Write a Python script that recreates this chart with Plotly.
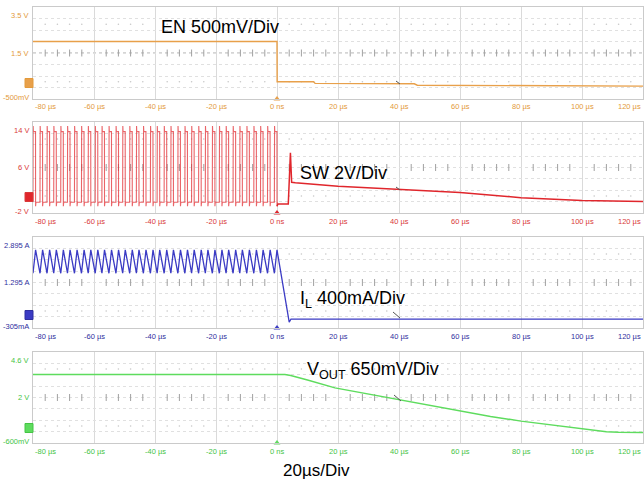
import plotly.graph_objects as go

W, H = 644, 486
FONT = "Liberation Sans, Arial, sans-serif"

# ---- time axis (µs) ----
t_ticks = [-80, -60, -40, -20, 0, 20, 40, 60, 80, 100, 120]
t_tick_text = ["-80 µs", "-60 µs", "-40 µs", "-20 µs", "0 ns", "20 µs",
               "40 µs", "60 µs", "80 µs", "100 µs", "120 µs"]

# ---- EN (V) ----
en_t = [-80, 0.0, 0.05, 12.0, 12.5, 45.0, 46.0, 120]
en_v = [2.0, 2.0, 0.25, 0.25, 0.18, 0.16, 0.10, 0.06]

# ---- SW node: rising edges of the switching pulses (µs) ----
sw_rise_us = [-80.0, -77.7, -75.4, -73.2, -70.9, -68.7, -66.4, -64.1, -61.9,
              -59.6, -57.4, -55.1, -52.8, -50.6, -48.3, -46.1, -43.8, -41.5,
              -39.3, -37.0, -34.8, -32.5, -30.2, -28.0, -25.7, -23.5, -21.2,
              -18.9, -16.7, -14.4, -12.2, -9.9, -7.6, -5.4, -3.1, -0.85]
sw_on_us = 0.85
sw_high_v = 12.3
sw_overshoot_v = 13.3
sw_low_v = -0.1
sw_undershoot_v = -0.8
# SW after the converter stops switching
sw_tail_t = [0.0, 0.3, 3.7, 4.4, 4.8, 6.0, 20, 40, 60, 80, 100, 120]
sw_tail_v = [-0.8, -0.4, -0.4, 8.6, 3.4, 3.3, 2.7, 2.1, 1.6, 0.7, 0.2, 0.0]

# ---- inductor current (A) ----
il_valley_a = 1.62
il_peak_a = 2.44
il_tail_t = [4.0, 4.6, 120]
il_tail_v = [-0.10, 0.01, 0.01]

# ---- VOUT (V) ----
vout_t = [-80, 2.6, 4.5, 7, 10, 19, 30, 39, 53, 60, 70, 80, 90, 100, 105,
          108, 112, 120]
vout_v = [3.31, 3.31, 3.26, 3.15, 3.0, 2.55, 2.2, 1.89, 1.45, 1.22, 0.92,
          0.65, 0.42, 0.23, 0.11, 0.04, 0.01, 0.0]

# ---- build the switching waveforms from the edge list ----
sw_t, sw_v, il_t, il_v = [], [], [], []
for tr in sw_rise_us:
    tf = tr + sw_on_us
    sw_t += [tr - 0.01, tr, tr + 0.05, tr + 0.12, tf - 0.02, tf, tf + 0.12]
    sw_v += [sw_low_v, sw_high_v, sw_overshoot_v, sw_high_v, sw_high_v,
             sw_undershoot_v, sw_low_v]
    il_t += [tr, tf]
    il_v += [il_valley_a, il_peak_a]
il_t += il_tail_t
il_v += il_tail_v

# ---- panels: (name, traces, range, div, line colour, label colour, top px, bottom px) ----
panels = [
    ("EN", [(en_t, en_v, "#E8A04A", 1.4)], (-0.5, 3.5), 0.5,
     "#E8A04A", "#E39A3B", 7, 99),
    ("SW", [(sw_t, sw_v, "rgba(226,40,46,0.72)", 1.1),
            (sw_tail_t, sw_tail_v, "#E0262C", 1.5)], (-2.0, 14.0), 2.0,
     "#E0262C", "#D93A3A", 122, 213),
    ("IL", [(il_t, il_v, "#3B3BC4", 1.3)], (-0.305, 2.895), 0.4,
     "#3B3BC4", "#2F2F9E", 237, 328),
    ("VOUT", [(vout_t, vout_v, "#5EDC5E", 1.5)], (-0.6, 4.6), 0.65,
     "#5EDC5E", "#45C445", 352, 443),
]
y_labels = [
    ["3.5 V", "1.5 V", "-500mV"],
    ["14 V", "6 V", "-2 V"],
    ["2.895 A", "1.295 A", "-305mA"],
    ["4.6 V", "2 V", "-600mV"],
]
ground_px = [83, 197, 315, 428]


def px(x):
    return x / W


def py(y):
    return 1 - y / H


fig = go.Figure()
layout = dict(
    width=W, height=H,
    margin=dict(l=0, r=0, t=0, b=0),
    paper_bgcolor="white", plot_bgcolor="white",
    showlegend=False,
    font=dict(family=FONT),
)
shapes, annotations = [], []
x_left, x_right = 33, 643

for i, (name, traces, (lo, hi), div, col, lcol, top, bot) in enumerate(panels):
    n = "" if i == 0 else str(i + 1)
    xa, ya = "x" + n, "y" + n
    layout["xaxis" + n] = dict(
        domain=[px(x_left), px(x_right)], range=[-80, 120], anchor=ya,
        tickvals=t_ticks, showticklabels=False, ticks="",
        showgrid=True, gridcolor="#DADADA", gridwidth=1, zeroline=False,
        showline=True, linecolor="#CACACA", mirror=True,
    )
    layout["yaxis" + n] = dict(
        domain=[py(bot), py(top)], range=[lo, hi], anchor=xa,
        tick0=lo, dtick=div, showticklabels=False, ticks="",
        showgrid=True, gridcolor="#E0E0E0", griddash="dot", gridwidth=1,
        zeroline=False, showline=True, linecolor="#CACACA", mirror=True,
    )
    center = (lo + hi) / 2

    # centre graticule line with minor tick marks
    shapes.append(dict(type="line", xref=xa + " domain", yref=ya,
                       x0=0, x1=1, y0=center, y1=center, layer="below",
                       line=dict(color="#ABABAB", width=1, dash="dot")))
    minor = [m for m in range(-80, 121, 4) if m % 20 != 0]
    fig.add_trace(go.Scatter(
        x=minor, y=[center] * len(minor), xaxis=xa, yaxis=ya, mode="markers",
        marker=dict(symbol="line-ns", size=5,
                    line=dict(color="#A0A0A0", width=1)),
        hoverinfo="skip"))
    for row in (lo + 1.5 * div, hi - 1.5 * div):
        fig.add_trace(go.Scatter(
            x=minor, y=[row] * len(minor), xaxis=xa, yaxis=ya, mode="markers",
            marker=dict(symbol="circle", size=1.6, color="#C8C8C8"),
            hoverinfo="skip"))

    # signal traces
    for (t, v, c, w) in traces:
        fig.add_trace(go.Scatter(
            x=t, y=v, xaxis=xa, yaxis=ya, mode="lines",
            line=dict(color=c, width=w), hoverinfo="skip"))

    # trigger marker at t = 0
    fig.add_trace(go.Scatter(
        x=[0], y=[lo], xaxis=xa, yaxis=ya, mode="markers",
        marker=dict(symbol="triangle-up", size=6, color=col),
        cliponaxis=False, hoverinfo="skip"))

    # channel ground marker
    g = ground_px[i]
    shapes.append(dict(type="rect", xref="paper", yref="paper",
                       x0=px(25), x1=px(33), y0=py(g + 4.5), y1=py(g - 4.5),
                       fillcolor=col, line=dict(color=lcol, width=1)))

    # vertical scale labels
    for txt, yy in zip(y_labels[i], (top + 8, (top + bot) / 2, bot - 2)):
        annotations.append(dict(
            text=txt, xref="paper", yref="paper", x=px(31), y=py(yy),
            xanchor="right", yanchor="middle", showarrow=False,
            font=dict(size=7.5, color=lcol, family=FONT)))

    # time tick labels
    for k, (tv, tt) in enumerate(zip(t_ticks, t_tick_text)):
        anchor = "left" if k == 0 else ("right" if k == len(t_ticks) - 1 else "center")
        annotations.append(dict(
            text=tt, xref=xa, yref="paper", x=tv, y=py(bot + 8),
            xanchor=anchor, yanchor="middle", showarrow=False,
            font=dict(size=7.5, color=lcol, family=FONT)))

# white patches over the graticule
shapes.append(dict(type="rect", xref="paper", yref="paper", layer="below",
                   x0=px(384), x1=px(402), y0=py(80), y1=py(65),
                   fillcolor="white", line=dict(width=0)))
shapes.append(dict(type="rect", xref="paper", yref="paper", layer="below",
                   x0=px(292), x1=px(401), y0=py(185), y1=py(162),
                   fillcolor="white", line=dict(width=0)))

# small pointer strokes
for (x0, y0, x1, y1) in [(396, 81, 400, 84), (396, 187, 400, 190),
                         (393, 312, 400, 318), (394, 395, 401, 401)]:
    shapes.append(dict(type="line", xref="paper", yref="paper",
                       x0=px(x0), y0=py(y0), x1=px(x1), y1=py(y1),
                       line=dict(color="#555555", width=1)))

# channel captions
big = dict(size=18, color="black", family=FONT)
cap = dict(xref="paper", yref="paper", showarrow=False,
           xanchor="center", yanchor="middle")
annotations += [
    dict(text="EN 500mV/Div", x=px(220), y=py(27), font=big, **cap),
    dict(text="SW 2V/Div", x=px(343), y=py(173), font=big, **cap),
    dict(text="I<sub>L</sub> 400mA/Div", x=px(352), y=py(299), font=big, **cap),
    dict(text="V<sub>OUT</sub> 650mV/Div", x=px(373), y=py(370), font=big, **cap),
    dict(text="20µs/Div", x=px(316), y=py(470),
         font=dict(size=17, color="black", family=FONT), **cap),
]

layout["shapes"] = shapes
layout["annotations"] = annotations
fig.update_layout(**layout)
fig.write_html("out.html")
